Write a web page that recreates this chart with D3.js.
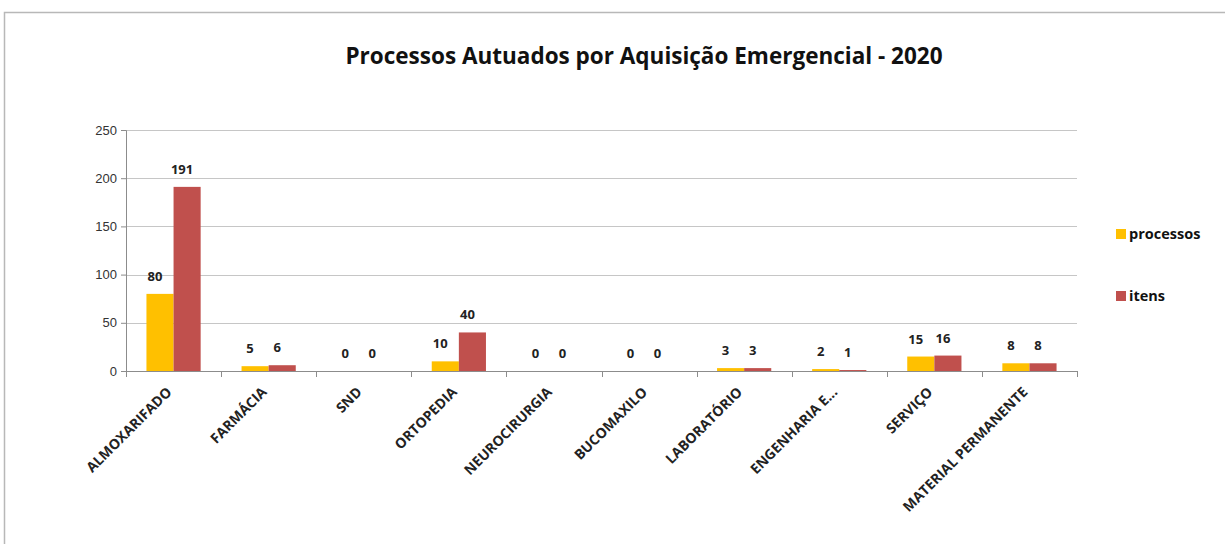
<!DOCTYPE html>
<html>
<head>
<meta charset="utf-8">
<script src="https://cdn.jsdelivr.net/npm/d3@7"></script>
<style>
  body { margin: 0; background: #fff; }
  svg { display: block; font-family: "Open Sans", "DejaVu Sans", sans-serif; }
  .cat { font-weight: bold; font-size: 14px; fill: #222; }
  .val { font-weight: bold; font-size: 13px; fill: #222; }
  .ytick { font-size: 13px; fill: #333; }
</style>
</head>
<body>
<div id="chart"></div>
<script>
// data
var categories = ["ALMOXARIFADO", "FARMÁCIA", "SND", "ORTOPEDIA", "NEUROCIRURGIA",
  "BUCOMAXILO", "LABORATÓRIO", "ENGENHARIA E...", "SERVIÇO", "MATERIAL PERMANENTE"];
var processos = [80, 5, 0, 10, 0, 0, 3, 2, 15, 8];
var itens = [191, 6, 0, 40, 0, 0, 3, 1, 16, 8];
var seriesNames = ["processos", "itens"];
var yTicks = [0, 50, 100, 150, 200, 250];

var W = 1225, H = 544;
var margin = { top: 130, left: 126, right: 148, bottom: 173 };
var width = W - margin.left - margin.right;
var height = H - margin.top - margin.bottom;

var color = d3.scaleOrdinal()
  .domain(seriesNames)
  .range(["#FFC000", "#C0504D"]);

var svg = d3.select("#chart").append("svg")
  .attr("width", W)
  .attr("height", H);

// outer frame
svg.append("path")
  .attr("d", "M4.5," + H + "V12.5H" + W)
  .attr("fill", "none")
  .attr("stroke", "#b8b8b8")
  .attr("stroke-width", 1.5);

svg.append("text")
  .attr("x", 644)
  .attr("y", 64)
  .attr("text-anchor", "middle")
  .style("font-weight", "bold")
  .style("font-size", "22.5px")
  .style("fill", "#111")
  .text("Processos Autuados por Aquisição Emergencial - 2020");

var g = svg.append("g")
  .attr("transform", "translate(" + margin.left + "," + margin.top + ")");

var x0 = d3.scaleBand()
  .domain(categories)
  .range([0, width])
  .paddingInner(0.43)
  .paddingOuter(0.215);

var x1 = d3.scaleBand()
  .domain(seriesNames)
  .range([0, x0.bandwidth()]);

var y = d3.scaleLinear()
  .domain([0, 250])
  .range([height, 0]);

// gridlines
g.selectAll(".grid")
  .data(yTicks.slice(1))
  .enter().append("line")
  .attr("x1", 0)
  .attr("x2", width)
  .attr("y1", function(d) { return Math.round(y(d)) + 0.5; })
  .attr("y2", function(d) { return Math.round(y(d)) + 0.5; })
  .attr("stroke", "#c6c6c6");

// y axis
var yAxis = g.append("g")
  .call(d3.axisLeft(y).tickValues(yTicks).tickSize(5).tickPadding(4));
yAxis.selectAll("text").attr("class", "ytick").attr("fill", null);
yAxis.selectAll("line, path").attr("stroke", "#8c8c8c");
yAxis.select(".domain").attr("d", "M-5,0.5H0.5V" + height);

// bars
var data = categories.map(function(c, i) {
  return { cat: c, vals: [
    { key: "processos", v: processos[i] },
    { key: "itens", v: itens[i] }
  ] };
});

var groups = g.selectAll(".grp")
  .data(data)
  .enter().append("g")
  .attr("transform", function(d) { return "translate(" + x0(d.cat) + ",0)"; });

groups.selectAll("rect")
  .data(function(d) { return d.vals; })
  .enter().append("rect")
  .attr("x", function(d) { return x1(d.key); })
  .attr("y", function(d) { return y(d.v); })
  .attr("width", x1.bandwidth())
  .attr("height", function(d) { return height - y(d.v); })
  .attr("fill", function(d) { return color(d.key); });

groups.selectAll(".val")
  .data(function(d) { return d.vals; })
  .enter().append("text")
  .attr("class", "val")
  .attr("x", function(d) { return x1(d.key) + x1.bandwidth() / 2 - 5; })
  .attr("y", function(d) { return y(d.v) - 13; })
  .attr("text-anchor", "middle")
  .text(function(d) { return d.v; });

// x axis
var step = width / categories.length;
var xAxis = g.append("g")
  .attr("transform", "translate(0," + height + ")");
xAxis.append("line")
  .attr("x1", 0).attr("x2", width)
  .attr("y1", 0.5).attr("y2", 0.5)
  .attr("stroke", "#8c8c8c");
xAxis.selectAll(".xt")
  .data(d3.range(categories.length + 1))
  .enter().append("line")
  .attr("x1", function(i) { return Math.round(i * step) + 0.5; })
  .attr("x2", function(i) { return Math.round(i * step) + 0.5; })
  .attr("y1", 0).attr("y2", 6)
  .attr("stroke", "#8c8c8c");

xAxis.selectAll(".cat")
  .data(categories)
  .enter().append("text")
  .attr("class", "cat")
  .attr("text-anchor", "end")
  .attr("transform", function(d) {
    return "translate(" + (x0(d) + x0.bandwidth() / 2 - 1) + ",22) rotate(-45)";
  })
  .text(function(d) { return d; });

// legend
var legend = svg.append("g")
  .attr("transform", "translate(1116,229)");
var li = legend.selectAll("g")
  .data(seriesNames)
  .enter().append("g")
  .attr("transform", function(d, i) { return "translate(0," + i * 62 + ")"; });
li.append("rect")
  .attr("width", 10).attr("height", 10)
  .attr("fill", function(d) { return color(d); });
li.append("text")
  .attr("x", 13).attr("y", 10)
  .style("font-weight", "bold")
  .style("font-size", "14.5px")
  .style("fill", "#111")
  .text(function(d) { return d; });
</script>
</body>
</html>
